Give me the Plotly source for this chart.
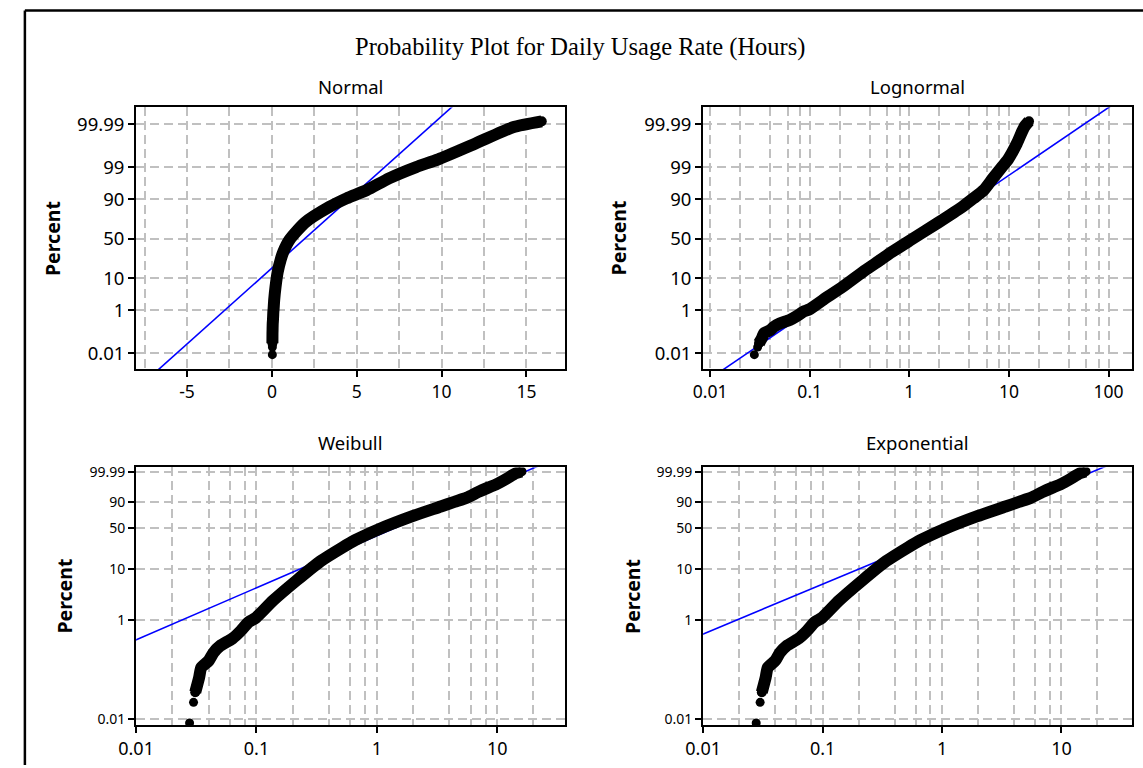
import math
from statistics import NormalDist
import plotly.graph_objects as go

W, H = 1143, 768

title_text = "Probability Plot for Daily Usage Rate (Hours)"
panel_names = ["Normal", "Lognormal", "Weibull", "Exponential"]

# Daily usage (hours) vs cumulative percent
pct = [0.0085, 0.022, 0.035, 0.07, 0.11, 0.15, 0.22, 0.30, 0.42, 0.60, 0.90, 1.1,
       2.4, 6.0, 14, 25, 33, 49, 70, 85, 90.5, 94.3, 97.5, 99.0, 99.5, 99.9,
       99.985, 99.993]
hours = [0.0278, 0.030, 0.031, 0.0334, 0.0348, 0.040, 0.044, 0.050, 0.063, 0.074,
         0.086, 0.099, 0.137, 0.215, 0.34, 0.52, 0.66, 1.05, 1.95, 3.4, 4.4, 5.6,
         6.9, 8.5, 9.8, 12.0, 14.2, 15.9]
n_separate = 2  # lowest points appear as isolated dots

# fitted distribution parameters
norm_mu, norm_sd = 1.93, 2.03
logn_loc10, logn_scale10 = 0.063, 0.455
weib_shape, weib_scale = 1.046, 1.975
expo_scale = 1.92

y_tick_pct_upper = [0.01, 1, 10, 50, 90, 99, 99.99]
y_tick_txt_upper = ["0.01", "1", "10", "50", "90", "99", "99.99"]
y_tick_pct_lower = [0.01, 1, 10, 50, 90, 99.99]
y_tick_txt_lower = ["0.01", "1", "10", "50", "90", "99.99"]

normal_xticks = [-5, 0, 5, 10, 15]
normal_xtick_txt = ["-5", "0", "5", "10", "15"]
log_xticks_upper = [0.01, 0.1, 1, 10, 100]
log_xtick_txt_upper = ["0.01", "0.1", "1", "10", "100"]
log_xticks_lower = [0.01, 0.1, 1, 10]
log_xtick_txt_lower = ["0.01", "0.1", "1", "10"]

nd = NormalDist()


def zq(p):
    return nd.inv_cdf(p / 100.0)


def wq(p):
    return math.log(-math.log(1.0 - p / 100.0))


# ---------------- geometry (pixels) ----------------
def px_x(a, b):
    return [a / W, b / W]


def px_y(top, bottom):
    return [1 - bottom / H, 1 - top / H]


dom_x_left = px_x(120, 555.4)
dom_x_right = px_x(696.1, 1131.8)
dom_y_upper = px_y(103.5, 368)
dom_y_lower = px_y(467.3, 728)

rng_norm_x = [-8.0, 17.25]
rng_logn_x = [-2.07, 2.235]
rng_weib_x = [-2.0, 1.56]
rng_expo_x = [-2.0, 1.59]
rng_z = [-4.23, 4.26]
rng_w = [-9.49, 2.45]

GRID = "#c0c0c0"
FONT = "Noto Sans"

fig = go.Figure()

BLACK = "#000000"
BLUE = "#0000ff"


def add_data(xv, yv, xa, ya):
    fig.add_trace(go.Scatter(x=xv[:n_separate + 1], y=yv[:n_separate + 1], mode="markers",
                             marker=dict(color=BLACK, size=9), xaxis=xa, yaxis=ya,
                             showlegend=False, hoverinfo="skip"))
    fig.add_trace(go.Scatter(x=xv[n_separate:], y=yv[n_separate:], mode="lines+markers",
                             line=dict(color=BLACK, width=12, shape="spline", smoothing=0.6),
                             marker=dict(color=BLACK, size=10), xaxis=xa, yaxis=ya,
                             showlegend=False, hoverinfo="skip"))


def add_fit(xv, yv, xa, ya):
    fig.add_trace(go.Scatter(x=xv, y=yv, mode="lines", line=dict(color=BLUE, width=1.6),
                             xaxis=xa, yaxis=ya, showlegend=False, hoverinfo="skip"))


z_data = [zq(p) for p in pct]
w_data = [wq(p) for p in pct]

# Normal: fit line first, then data
nx = [rng_norm_x[0] - 5, rng_norm_x[1] + 5]
add_fit(nx, [(v - norm_mu) / norm_sd for v in nx], "x", "y")
add_data(hours, z_data, "x", "y")

# Lognormal
lx = [10 ** (rng_logn_x[0] - 0.5), 10 ** (rng_logn_x[1] + 0.5)]
add_fit(lx, [(math.log10(v) - logn_loc10) / logn_scale10 for v in lx], "x2", "y2")
add_data(hours, z_data, "x2", "y2")

# Weibull
wx = [10 ** (rng_weib_x[0] - 0.5), 10 ** (rng_weib_x[1] + 0.5)]
add_fit(wx, [weib_shape * math.log(v / weib_scale) for v in wx], "x3", "y3")
add_data(hours, w_data, "x3", "y3")

# Exponential
ex = [10 ** (rng_expo_x[0] - 0.5), 10 ** (rng_expo_x[1] + 0.5)]
add_fit(ex, [math.log(v / expo_scale) for v in ex], "x4", "y4")
add_data(hours, w_data, "x4", "y4")


def base_axis(fsize):
    return dict(showline=True, linecolor=BLACK, linewidth=2, mirror=True,
                ticks="outside", ticklen=6, tickwidth=1.5, tickcolor=BLACK,
                showgrid=True, gridcolor=GRID, gridwidth=2, griddash="9px,5px",
                zeroline=False, fixedrange=True,
                tickfont=dict(family=FONT, size=fsize, color=BLACK))


def minor_grid(vals):
    return dict(tickmode="array", tickvals=vals, showgrid=True, gridcolor=GRID,
                gridwidth=2, griddash="9px,5px", ticks="")


def log_minor(decades):
    vals = []
    for d in decades:
        for m in [2, 4, 6, 8]:
            vals.append(m * d)
    return vals


norm_minor = [v + 2.5 for v in [-10, -5, 0, 5, 10, 15]]

layout_axes = {}
ax = base_axis(17.5)
ax.update(domain=dom_x_left, range=rng_norm_x, tickmode="array", tickvals=normal_xticks,
          ticktext=normal_xtick_txt, anchor="y", minor=minor_grid(norm_minor))
layout_axes["xaxis"] = ax

ax = base_axis(18.5)
ax.update(domain=dom_y_upper, range=rng_z, tickmode="array",
          tickvals=[zq(p) for p in y_tick_pct_upper], ticktext=y_tick_txt_upper, anchor="x")
layout_axes["yaxis"] = ax

ax = base_axis(17.5)
ax.update(domain=dom_x_right, type="log", range=rng_logn_x, tickmode="array",
          tickvals=log_xticks_upper, ticktext=log_xtick_txt_upper, anchor="y2",
          minor=minor_grid(log_minor([0.01, 0.1, 1, 10, 100])))
layout_axes["xaxis2"] = ax

ax = base_axis(18.5)
ax.update(domain=dom_y_upper, range=rng_z, tickmode="array",
          tickvals=[zq(p) for p in y_tick_pct_upper], ticktext=y_tick_txt_upper, anchor="x2")
layout_axes["yaxis2"] = ax

ax = base_axis(18)
ax.update(domain=dom_x_left, type="log", range=rng_weib_x, tickmode="array",
          tickvals=log_xticks_lower, ticktext=log_xtick_txt_lower, anchor="y3",
          minor=minor_grid(log_minor([0.01, 0.1, 1, 10])))
layout_axes["xaxis3"] = ax

ax = base_axis(14)
ax.update(domain=dom_y_lower, range=rng_w, tickmode="array",
          tickvals=[wq(p) for p in y_tick_pct_lower], ticktext=y_tick_txt_lower, anchor="x3")
layout_axes["yaxis3"] = ax

ax = base_axis(18)
ax.update(domain=dom_x_right, type="log", range=rng_expo_x, tickmode="array",
          tickvals=log_xticks_lower, ticktext=log_xtick_txt_lower, anchor="y4",
          minor=minor_grid(log_minor([0.01, 0.1, 1, 10])))
layout_axes["xaxis4"] = ax

ax = base_axis(14)
ax.update(domain=dom_y_lower, range=rng_w, tickmode="array",
          tickvals=[wq(p) for p in y_tick_pct_lower], ticktext=y_tick_txt_lower, anchor="x4")
layout_axes["yaxis4"] = ax

annotations = []
annotations.append(dict(text=title_text, x=571 / W, y=1 - 42 / H, xref="paper", yref="paper",
                        showarrow=False, xanchor="center", yanchor="middle",
                        font=dict(family="Liberation Serif", size=24.5, color=BLACK)))

title_pos = [((120 + 555.4) / 2, 82), ((696.1 + 1131.8) / 2, 82),
             ((120 + 555.4) / 2, 442), ((696.1 + 1131.8) / 2, 442)]
for name, (tx, ty) in zip(panel_names, title_pos):
    annotations.append(dict(text=name, x=tx / W, y=1 - ty / H, xref="paper", yref="paper",
                            showarrow=False, xanchor="center", yanchor="middle",
                            font=dict(family=FONT, size=18.5, color=BLACK)))

percent_pos = [(34.5, 235.5), (610, 235.5), (47, 597.5), (624.5, 597.5)]
for tx, ty in percent_pos:
    annotations.append(dict(text="<b>Percent</b>", x=tx / W, y=1 - ty / H, xref="paper",
                            yref="paper", showarrow=False, xanchor="center", yanchor="middle",
                            textangle=-90, font=dict(family=FONT, size=19.5, color=BLACK)))

shapes = [
    dict(type="line", xref="paper", yref="paper", x0=7 / W, x1=1.0, y0=1 - 5.5 / H, y1=1 - 5.5 / H,
         line=dict(color=BLACK, width=2.5)),
    dict(type="line", xref="paper", yref="paper", x0=7 / W, x1=7 / W, y0=0, y1=1 - 5.5 / H,
         line=dict(color=BLACK, width=2.5)),
]

fig.update_layout(width=W, height=H, autosize=False, margin=dict(l=0, r=0, t=0, b=0),
                  paper_bgcolor="white", plot_bgcolor="white", showlegend=False,
                  annotations=annotations, shapes=shapes, **layout_axes)

fig.write_html("out.html")
